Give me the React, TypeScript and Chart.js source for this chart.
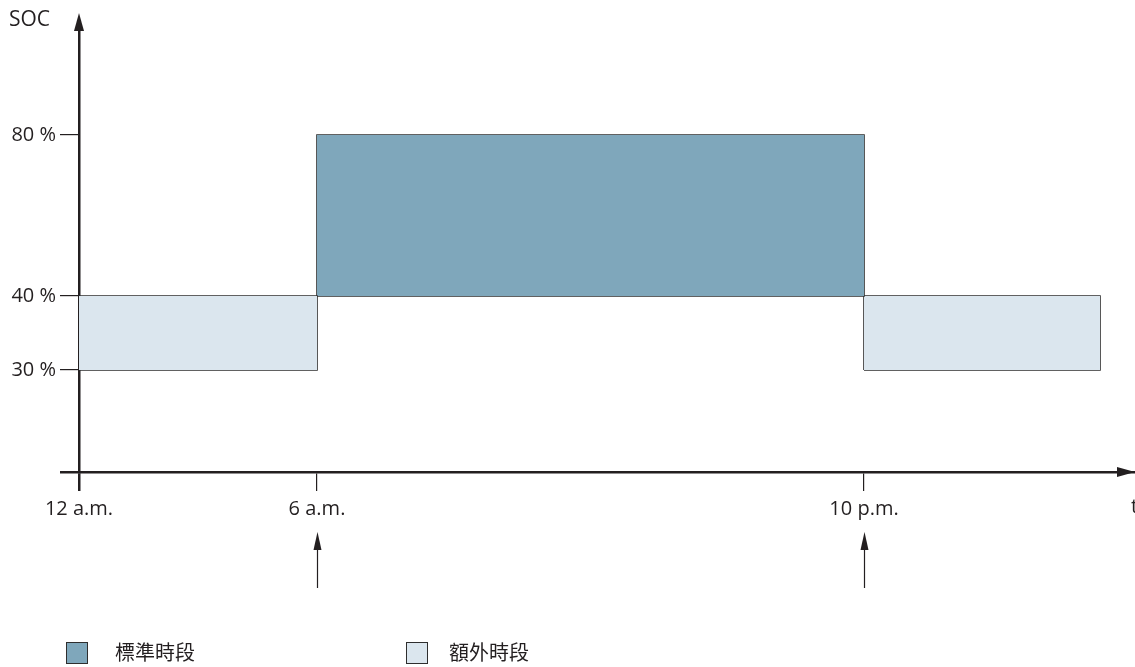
import React, { useEffect, useRef } from "react";
import { Chart, registerables } from "chart.js";

Chart.register(...registerables);

// Schematic diagram (not to scale): positions are in schematic units.
const timeLabels = ["12 a.m.", "6 a.m.", "10 p.m."];
const timePositions = [0, 2.38, 7.85];
const timeAxisMax = 10.56;

const socLabels = ["30 %", "40 %", "80 %"];
const socPositions = [1.02, 1.76, 3.37];
const socAxisMax = 4.47;

const periodNames = ["額外時段", "標準時段", "額外時段"];
const periodStart = [0, 2.38, 7.85];
const periodEnd = [2.38, 7.85, 10.21];
const periodLow = [1.02, 1.76, 1.02];
const periodHigh = [1.76, 3.37, 1.76];

const legendNames = ["標準時段", "額外時段"];
const COLORS: Record<string, string> = {
  "標準時段": "#7fa7bb",
  "額外時段": "#dbe6ee",
};
const INK = "#231f20";
const EDGE = "#2e2e2e";
const FONT = "'Open Sans', 'DejaVu Sans', sans-serif";

const overlay = {
  id: "overlay",
  afterDraw(chart: any) {
    const { ctx, chartArea, scales } = chart;
    const x0 = scales.x.getPixelForValue(0);
    const y0 = scales.y.getPixelForValue(0);
    ctx.save();
    ctx.fillStyle = INK;
    // y-axis arrowhead
    ctx.beginPath();
    ctx.moveTo(x0, 13);
    ctx.lineTo(x0 - 5, 31);
    ctx.lineTo(x0 + 5, 31);
    ctx.closePath();
    ctx.fill();
    // x-axis arrowhead
    ctx.beginPath();
    ctx.moveTo(chartArea.right, y0);
    ctx.lineTo(chartArea.right - 18, y0 - 5);
    ctx.lineTo(chartArea.right - 18, y0 + 5);
    ctx.closePath();
    ctx.fill();
    // axis titles
    ctx.font = `21px ${FONT}`;
    ctx.textBaseline = "middle";
    ctx.textAlign = "left";
    ctx.fillText("SOC", 9, 20);
    ctx.font = `20px ${FONT}`;
    ctx.fillText("t", 1131, 507);
    // switching arrows below 6 a.m. and 10 p.m.
    [1, 2].forEach((i) => {
      const px = Math.round(scales.x.getPixelForValue(timePositions[i])) + 0.5;
      ctx.strokeStyle = INK;
      ctx.lineWidth = 1.2;
      ctx.beginPath();
      ctx.moveTo(px, 545);
      ctx.lineTo(px, 588);
      ctx.stroke();
      ctx.beginPath();
      ctx.moveTo(px, 532);
      ctx.lineTo(px - 4, 550);
      ctx.lineTo(px + 4, 550);
      ctx.closePath();
      ctx.fill();
    });
    ctx.restore();
  },
};

export default function App() {
  const ref = useRef<HTMLCanvasElement>(null);

  useEffect(() => {
    const datasets: any[] = [];
    periodNames.forEach((name, i) => {
      datasets.push({
        label: name,
        data: [
          { x: periodStart[i], y: periodHigh[i] },
          { x: periodEnd[i], y: periodHigh[i] },
        ],
        borderWidth: 0,
        borderColor: "rgba(0,0,0,0)",
        backgroundColor: COLORS[name],
        fill: { target: { value: periodLow[i] } },
        pointRadius: 0,
        tension: 0,
      });
      datasets.push({
        label: name + " outline",
        data: [
          { x: periodStart[i], y: periodLow[i] },
          { x: periodStart[i], y: periodHigh[i] },
          { x: periodEnd[i], y: periodHigh[i] },
          { x: periodEnd[i], y: periodLow[i] },
          { x: periodStart[i], y: periodLow[i] },
        ],
        borderWidth: 1.6,
        borderColor: EDGE,
        fill: false,
        pointRadius: 0,
        tension: 0,
      });
    });

    const chart = new Chart(ref.current!, {
      type: "line",
      data: { datasets },
      options: {
        responsive: false,
        animation: false,
        events: [],
        layout: { padding: { top: 25, right: 0, left: 0, bottom: 0 } },
        plugins: { legend: { display: false }, tooltip: { enabled: false } },
        scales: {
          x: {
            type: "linear",
            min: 0,
            max: timeAxisMax,
            z: 1,
            afterFit: (s: any) => {
              s.height = 195;
            },
            afterBuildTicks: (s: any) => {
              s.ticks = timePositions.map((v) => ({ value: v }));
            },
            border: { display: true, width: 2.5, color: INK },
            grid: {
              drawOnChartArea: false,
              drawTicks: true,
              tickLength: 19,
              color: INK,
              lineWidth: (c: any) => (c.tick && c.tick.value === 0 ? 2.5 : 1.2),
            },
            ticks: {
              autoSkip: false,
              maxRotation: 0,
              padding: 6,
              color: INK,
              font: { family: FONT, size: 20 },
              callback: (_v: any, i: number) => timeLabels[i],
            },
          },
          y: {
            type: "linear",
            min: 0,
            max: socAxisMax,
            z: 1,
            afterFit: (s: any) => {
              s.width = 79;
            },
            afterBuildTicks: (s: any) => {
              s.ticks = [0, ...socPositions].map((v) => ({ value: v }));
            },
            border: { display: true, width: 2.5, color: INK },
            grid: {
              drawOnChartArea: false,
              drawTicks: true,
              tickLength: 19,
              color: INK,
              lineWidth: (c: any) => (c.tick && c.tick.value === 0 ? 2.5 : 1.2),
            },
            ticks: {
              autoSkip: false,
              padding: 4,
              color: INK,
              font: { family: FONT, size: 20 },
              callback: (_v: any, i: number) => (i === 0 ? "" : socLabels[i - 1]),
            },
          },
        },
      },
      plugins: [overlay],
    });
    return () => chart.destroy();
  }, []);

  const legendPos = [
    { box: 66, text: 115 },
    { box: 406, text: 449 },
  ];

  return (
    <div style={{ position: "absolute", left: 0, top: 0, width: 1135, height: 667, background: "#fff" }}>
      <canvas ref={ref} width={1135} height={667} style={{ position: "absolute", left: 0, top: 0, display: "block" }} />
      {legendNames.map((name, i) => (
        <React.Fragment key={name}>
          <div
            style={{
              position: "absolute",
              left: legendPos[i].box,
              top: 642,
              width: 20,
              height: 20,
              background: COLORS[name],
              border: `1px solid ${EDGE}`,
            }}
          />
          <div
            style={{
              position: "absolute",
              left: legendPos[i].text,
              top: 638,
              fontFamily: "'Noto Sans CJK TC', sans-serif",
              fontSize: 20,
              lineHeight: "28px",
              color: INK,
            }}
          >
            {name}
          </div>
        </React.Fragment>
      ))}
    </div>
  );
}
